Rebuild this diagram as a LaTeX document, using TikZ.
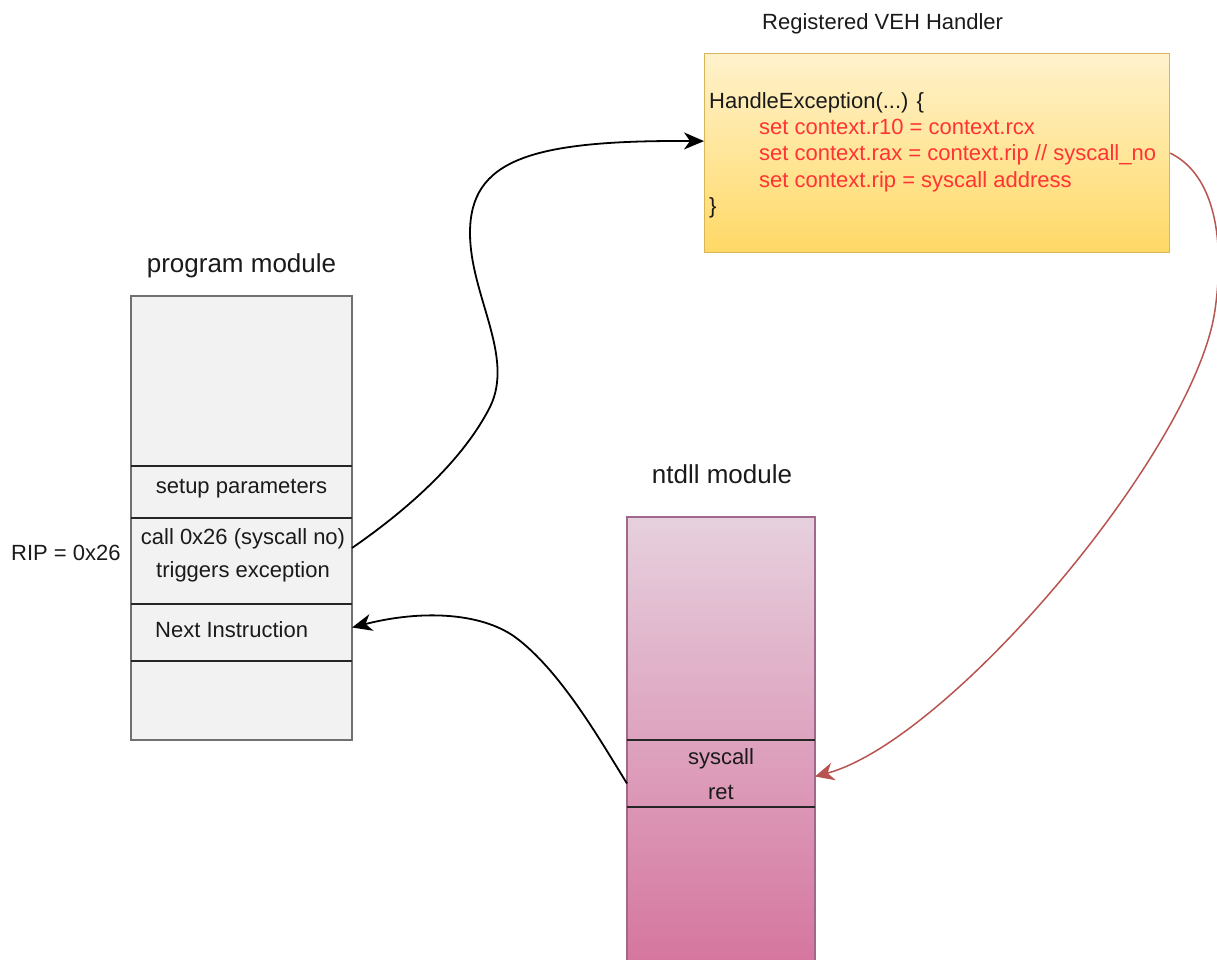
\documentclass[tikz,border=0pt]{standalone}
\usepackage{fontspec}
\setmainfont{Liberation Sans}
\usetikzlibrary{arrows.meta}

\definecolor{progfill}{HTML}{F2F2F2}
\definecolor{progline}{HTML}{707070}
\definecolor{ntTop}{HTML}{E6D0DE}
\definecolor{ntBot}{HTML}{D5739D}
\definecolor{ntLine}{HTML}{A0698C}
\definecolor{vehTop}{HTML}{FFF2CC}
\definecolor{vehBot}{HTML}{FFD966}
\definecolor{vehLine}{HTML}{D6B656}
\definecolor{codered}{HTML}{FF3333}
\definecolor{backred}{HTML}{B85450}
\definecolor{ink}{HTML}{1A1A1A}

\begin{document}
\begin{tikzpicture}[x=1pt,y=-1pt,
  body/.style={font=\fontsize{22}{26}\selectfont, text=ink, inner sep=0pt},
  code/.style={body, anchor=base west},
  redcode/.style={code, text=codered},
  heading/.style={font=\fontsize{26}{30}\selectfont, text=ink, inner sep=0pt, anchor=base},
  cell/.style={anchor=north west, minimum width=221pt, inner sep=0pt, outer sep=0pt},
  ntcell/.style={anchor=north west, minimum width=188pt, inner sep=0pt, outer sep=0pt},
  divider/.style={draw=black!85, line width=1.5pt},
  flow/.style={line width=1.8pt, -{Stealth[length=20pt,width=17pt,inset=6pt]}},
  backflow/.style={draw=backred, line width=1.5pt, -{Stealth[length=19pt,width=18pt,inset=6pt]}}
]
\useasboundingbox (0,0) rectangle (1217,960);

% ---------- program module ----------
\node[heading] (progTitle) at (241.5,272) {program module};
\node[cell, minimum height=444pt, fill=progfill, draw=progline, line width=1.2pt] (prog) at (131,296) {};
\node[cell, minimum height=170pt] (pA) at (131,296) {};
\node[cell, minimum height=52pt]  (pB) at (131,466) {};
\node[cell, minimum height=86pt]  (pC) at (131,518) {};
\node[cell, minimum height=57pt]  (pD) at (131,604) {};
\node[cell, minimum height=79pt]  (pE) at (131,661) {};
\foreach \c in {pB,pC,pD,pE}
  \draw[divider] (\c.north west) -- (\c.north east);

\node[body, anchor=base] (setupTxt) at (241.5,493) {setup parameters};
\node[body, anchor=base] (callTxt) at (243,544) {call 0x26 (syscall no)};
\node[body, anchor=base] (trigTxt) at (243,577) {triggers exception};
\node[body, anchor=base west] (nextTxt) at (155,637) {Next Instruction};
\node[body, anchor=base west] (ripTxt) at (11,560) {RIP = 0x26};

% ---------- ntdll module ----------
\node[heading] (ntTitle) at (722,483) {ntdll module};
\node[ntcell, minimum height=460pt, top color=ntTop, bottom color=ntBot,
      draw=ntLine, line width=1.2pt] (nt) at (627,517) {};
\node[ntcell, minimum height=223pt] (ntA) at (627,517) {};
\node[ntcell, minimum height=67pt]  (ntB) at (627,740) {};
\node[ntcell, minimum height=170pt] (ntC) at (627,807) {};
\foreach \c in {ntB,ntC}
  \draw[divider] (\c.north west) -- (\c.north east);
\node[body, anchor=base] (sysTxt) at (721,764) {syscall};
\node[body, anchor=base] (retTxt) at (721,799) {ret};

% ---------- VEH handler ----------
\node[font=\fontsize{22}{26}\selectfont, text=ink, inner sep=0pt, anchor=base west]
  (vehTitle) at (762,29.5) {Registered VEH Handler};
\node[anchor=north west, minimum width=465pt, minimum height=199pt, inner sep=0pt,
      top color=vehTop, bottom color=vehBot, draw=vehLine, line width=1.2pt]
  (veh) at (704,53) {};
\node[code]    (code1) at (709,109) {HandleException(...) \{};
\node[redcode] (code2) at (759,135) {set context.r10 = context.rcx};
\node[redcode] (code3) at (759,161) {set context.rax = context.rip // syscall\_no};
\node[redcode] (code4) at (759,187) {set context.rip = syscall address};
\node[code]    (code5) at (709,213) {\}};

% ---------- connectors ----------
% exception raised by the call goes to the registered handler
\draw[flow] ([yshift=13pt]pC.east)
  .. controls (405.5,511) and (462,462) .. (490,407)
  .. controls (515,356) and (470,295) .. (470,233)
  .. controls (470,160) and (530,140) .. ([yshift=12pt]veh.west);

% handler redirects execution to the syscall stub
\draw[backflow] (veh.east)
  .. controls (1215,175) and (1225,240) .. (1215,310)
  .. controls (1195,450) and (950,740) .. ([yshift=-3pt]ntB.east);

% ret returns to the next instruction
\draw[flow] ([yshift=-10pt]ntB.west)
  .. controls (600,740) and (560,670) .. (515,637)
  .. controls (480,612) and (420,610) .. ([yshift=5pt]pD.east);
\end{tikzpicture}
\end{document}
